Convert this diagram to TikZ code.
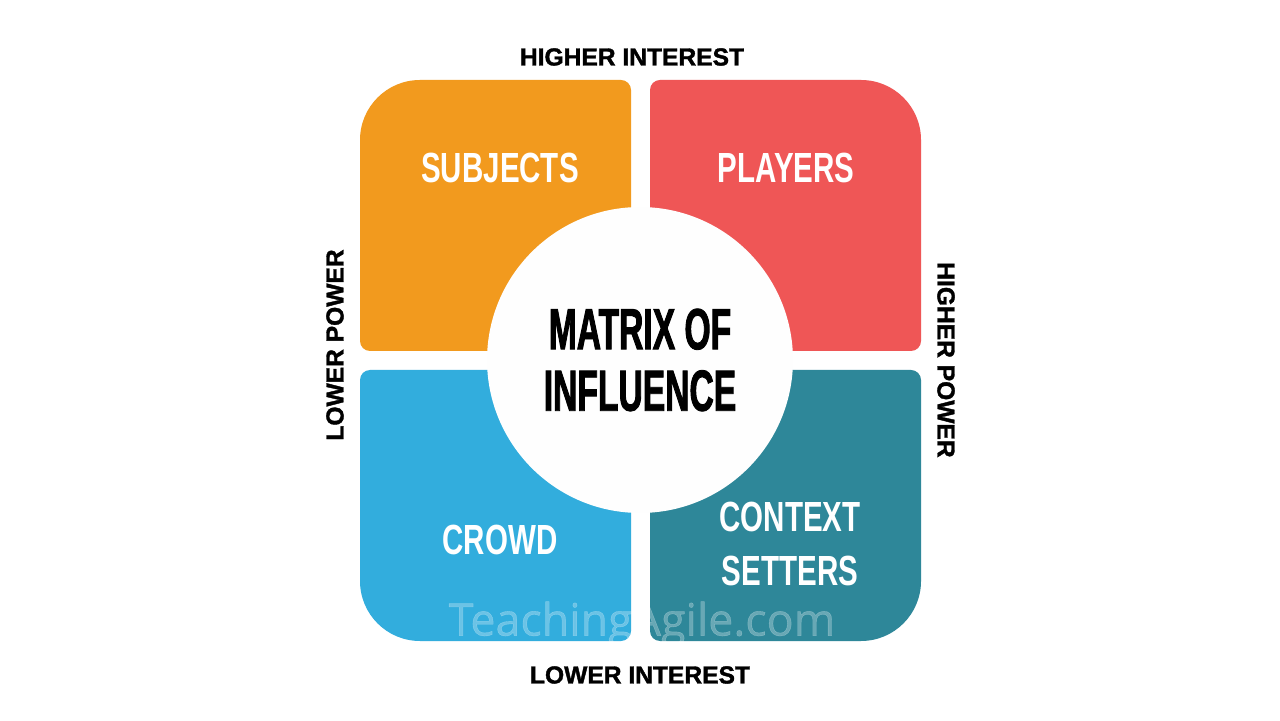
\documentclass[tikz,border=0pt]{standalone}
\usepackage{fontspec}
\newfontfamily\axisfont{Liberation Sans}[FakeBold=1.5]
\newfontfamily\quadfont{Liberation Sans}[FakeStretch=0.7]
\newfontfamily\titlefont{Liberation Sans}[FakeStretch=0.58,FakeBold=1.5]
\newfontfamily\markfont{Open Sans}[FakeBold=0.8]

\definecolor{quadorange}{RGB}{242,154,30}
\definecolor{quadred}{RGB}{239,86,86}
\definecolor{quadblue}{RGB}{50,173,221}
\definecolor{quadteal}{RGB}{46,135,153}
\definecolor{circlewhite}{RGB}{254,254,254}

\begin{document}
\begin{tikzpicture}[x=0.02cm, y=0.02cm,
  axislabel/.style={font=\axisfont\bfseries\fontsize{14}{16}\selectfont, text=black, inner sep=0pt},
  quadlabel/.style={font=\quadfont\bfseries\fontsize{24}{30.6}\selectfont, text=white, align=center, inner sep=0pt}]
  \def\bigr{60}
  \def\smallr{10}

  \fill[white] (0,0) rectangle (1280,720);
  \useasboundingbox (0,0) rectangle (1280,720);

  % quadrants, the outer corner is the big one
  \fill[quadorange] (360,500) -- (360,580) arc[start angle=180, end angle=90, radius=\bigr]
    -- (621,640) arc[start angle=90, end angle=0, radius=\smallr]
    -- (631,379) arc[start angle=0, end angle=-90, radius=\smallr]
    -- (370,369) arc[start angle=270, end angle=180, radius=\smallr] -- cycle;
  \fill[quadred] (650,500) -- (650,630) arc[start angle=180, end angle=90, radius=\smallr]
    -- (861,640) arc[start angle=90, end angle=0, radius=\bigr]
    -- (921,379) arc[start angle=0, end angle=-90, radius=\smallr]
    -- (660,369) arc[start angle=270, end angle=180, radius=\smallr] -- cycle;
  \fill[quadblue] (360,200) -- (360,340) arc[start angle=180, end angle=90, radius=\smallr]
    -- (621,350) arc[start angle=90, end angle=0, radius=\smallr]
    -- (631,89) arc[start angle=0, end angle=-90, radius=\smallr]
    -- (420,79) arc[start angle=270, end angle=180, radius=\bigr] -- cycle;
  \fill[quadteal] (650,200) -- (650,340) arc[start angle=180, end angle=90, radius=\smallr]
    -- (911,350) arc[start angle=90, end angle=0, radius=\smallr]
    -- (921,139) arc[start angle=0, end angle=-90, radius=\bigr]
    -- (660,79) arc[start angle=270, end angle=180, radius=\smallr] -- cycle;

  \node[quadlabel] (subjects) at (500,552) {SUBJECTS};
  \node[quadlabel] (players) at (786,552) {PLAYERS};
  \node[quadlabel] (crowd) at (500,180) {CROWD};
  \node[quadlabel] (setters) at (790,176) {CONTEXT\\SETTERS};

  \node (mark) [font=\markfont\fontsize{25.5}{30}\selectfont, text=white, text opacity=0.28, inner sep=0pt] at (642,96) {TeachingAgile.com};

  \node (title) [circle, fill=circlewhite, minimum size=6.12cm, inner sep=0pt, align=center,
    font=\titlefont\bfseries\fontsize{33}{35}\selectfont] at (640,360) {MATRIX OF\\INFLUENCE};

  \node[axislabel] (highint) at (632,663) {HIGHER INTEREST};
  \node[axislabel] (lowint) at (640,45) {LOWER INTEREST};
  \node[axislabel, rotate=90] (lowpow) at (335,375) {LOWER POWER};
  \node[axislabel, rotate=-90] (highpow) at (946,360) {HIGHER POWER};
\end{tikzpicture}
\end{document}
